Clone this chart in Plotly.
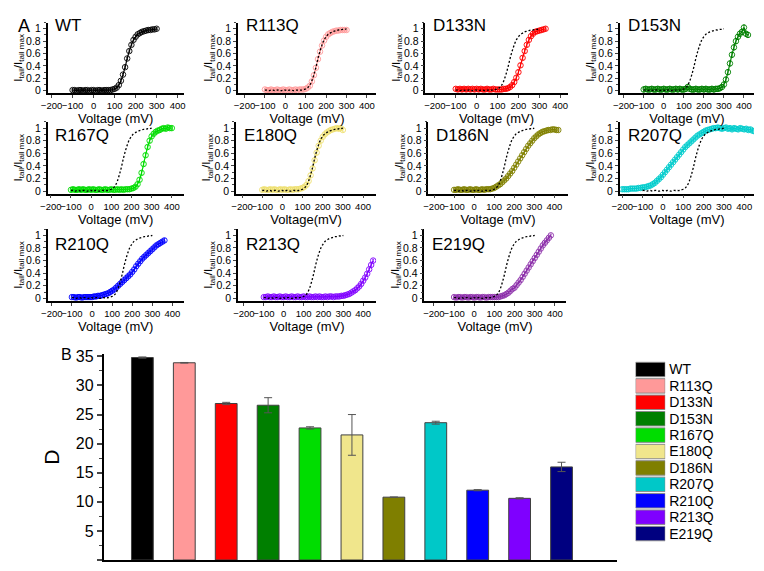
import plotly.graph_objects as go

# ---------------- data ----------------
names = ["WT", "R113Q", "D133N", "D153N", "R167Q", "E180Q", "D186N",
         "R207Q", "R210Q", "R213Q", "E219Q"]
curve_colors = ["#000000", "#FF9999", "#FF0000", "#008000", "#00DD00", "#EEE070",
                "#808000", "#00CCCC", "#0000FF", "#8000FF", "#8A2BA8"]
bar_colors = ["#000000", "#FF9999", "#FF0000", "#007F00", "#00DD00", "#F0E68C",
              "#7F7F00", "#00C8C8", "#0000FF", "#7F00FF", "#000080"]
panel_titles = ["WT", "R113Q", "D133N", "D153N", "R167Q", "E180Q", "D186N",
                "R207Q", "R210Q", "R213Q", "E219Q"]
x_titles = ["Voltage (mV)"] * 5 + ["Voltage(mV)"] + ["Voltage (mV)"] * 5
x_tick_vals = [-200, -100, 0, 100, 200, 300, 400]

# voltage protocol (start, end, step 10 mV)
v_start = [-100, -100, -100, -100, -100, -100, -100, -200, -100, -100, -100]
v_end = [300, 300, 330, 420, 400, 300, 420, 450, 360, 450, 380]

wt_y = [0.01, 0.01, 0.00, 0.01, 0.01, 0.00, 0.01, 0.01, 0.00, 0.01,
        0.01, 0.00, 0.01, 0.01, 0.00, 0.01, 0.01, 0.01, 0.01, 0.02,
        0.03, 0.05, 0.09, 0.16, 0.26, 0.38, 0.52, 0.64, 0.74, 0.82,
        0.87, 0.91, 0.93, 0.95, 0.96, 0.97, 0.98, 0.98, 0.99, 0.99, 1.00]
r113q_y = [0.02, 0.01, 0.01, 0.02, 0.01, 0.01, 0.02, 0.01, 0.01, 0.02,
           0.01, 0.01, 0.02, 0.01, 0.01, 0.02, 0.01, 0.02, 0.02, 0.02,
           0.03, 0.05, 0.08, 0.15, 0.25, 0.37, 0.51, 0.63, 0.73, 0.81,
           0.87, 0.91, 0.93, 0.95, 0.96, 0.97, 0.97, 0.98, 0.98, 0.98, 0.98]
d133n_y = [0.03, 0.02, 0.03, 0.02, 0.03, 0.02, 0.03, 0.02, 0.03, 0.02,
           0.03, 0.02, 0.03, 0.02, 0.02, 0.03, 0.02, 0.02, 0.03, 0.02,
           0.02, 0.02, 0.02, 0.03, 0.03, 0.04, 0.06, 0.09, 0.14, 0.21,
           0.30, 0.41, 0.53, 0.64, 0.74, 0.82, 0.88, 0.92, 0.95, 0.96,
           0.97, 0.98, 0.99, 1.00]
d153n_y = [0.02, 0.03, 0.02, 0.02, 0.03, 0.02, 0.02, 0.03, 0.02, 0.02,
           0.03, 0.02, 0.02, 0.03, 0.02, 0.02, 0.03, 0.02, 0.03, 0.02,
           0.02, 0.03, 0.06, 0.03, 0.02, 0.02, 0.03, 0.02, 0.02, 0.03,
           0.02, 0.03, 0.02, 0.02, 0.03, 0.02, 0.03, 0.03, 0.04, 0.06,
           0.10, 0.18, 0.30, 0.44, 0.58, 0.70, 0.80, 0.87, 0.92, 0.95,
           1.02, 0.92, 0.90]
r167q_y = [0.02, 0.03, 0.02, 0.02, 0.03, 0.02, 0.03, 0.02, 0.02, 0.03,
           0.02, 0.03, 0.02, 0.02, 0.03, 0.02, 0.02, 0.03, 0.02, 0.02,
           0.03, 0.02, 0.02, 0.03, 0.02, 0.03, 0.02, 0.03, 0.03, 0.03,
           0.04, 0.05, 0.07, 0.11, 0.18, 0.29, 0.43, 0.57, 0.70, 0.80,
           0.87, 0.91, 0.94, 0.96, 0.97, 0.99, 1.00, 0.99, 1.01, 1.00,
           1.00]
e180q_y = [0.02, 0.03, 0.02, 0.02, 0.03, 0.02, 0.03, 0.02, 0.02, 0.03,
           0.02, 0.03, 0.02, 0.02, 0.03, 0.02, 0.03, 0.03, 0.03, 0.04,
           0.05, 0.07, 0.10, 0.16, 0.25, 0.36, 0.49, 0.61, 0.72, 0.80,
           0.86, 0.90, 0.93, 0.95, 0.97, 0.98, 0.99, 1.00, 0.99, 1.00, 0.97]
d186n_y = [0.02, 0.02, 0.03, 0.02, 0.02, 0.03, 0.02, 0.02, 0.03, 0.02,
           0.02, 0.03, 0.02, 0.02, 0.03, 0.02, 0.03, 0.03, 0.03, 0.04,
           0.05, 0.07, 0.09, 0.11, 0.14, 0.17, 0.20, 0.24, 0.28, 0.32,
           0.37, 0.42, 0.47, 0.52, 0.57, 0.62, 0.67, 0.72, 0.76, 0.80,
           0.84, 0.87, 0.90, 0.92, 0.94, 0.95, 0.96, 0.97, 0.97, 0.98,
           0.98, 0.97, 0.97]
r207q_y = [0.03, 0.03, 0.03, 0.03, 0.04, 0.04, 0.04, 0.04, 0.05, 0.05,
           0.06, 0.06, 0.07, 0.08, 0.09, 0.11, 0.13, 0.16, 0.19, 0.22,
           0.26, 0.30, 0.34, 0.38, 0.42, 0.46, 0.50, 0.54, 0.58, 0.62,
           0.66, 0.70, 0.73, 0.76, 0.79, 0.82, 0.85, 0.88, 0.90, 0.92,
           0.94, 0.96, 0.97, 0.98, 0.99, 1.00, 1.00, 1.01, 1.00, 0.99,
           1.00, 1.01, 0.99, 1.00, 0.98, 1.00, 0.99, 0.98, 1.00, 0.99,
           0.98, 0.99, 0.97, 0.98, 0.96, 0.95]
r210q_y = [0.02, 0.02, 0.01, 0.02, 0.02, 0.01, 0.02, 0.02, 0.02, 0.02,
           0.02, 0.03, 0.03, 0.04, 0.04, 0.05, 0.06, 0.07, 0.08, 0.10,
           0.12, 0.14, 0.17, 0.20, 0.23, 0.26, 0.29, 0.32, 0.35, 0.38,
           0.42, 0.46, 0.51, 0.55, 0.59, 0.63, 0.66, 0.69, 0.72, 0.75,
           0.78, 0.81, 0.84, 0.86, 0.88, 0.90, 0.92]
r213q_y = [0.02, 0.02, 0.03, 0.02, 0.02, 0.03, 0.02, 0.02, 0.03, 0.02,
           0.02, 0.03, 0.02, 0.02, 0.03, 0.02, 0.02, 0.03, 0.02, 0.02,
           0.03, 0.02, 0.02, 0.03, 0.02, 0.02, 0.03, 0.02, 0.03, 0.02,
           0.02, 0.03, 0.02, 0.03, 0.03, 0.02, 0.03, 0.03, 0.03, 0.04,
           0.04, 0.05, 0.06, 0.07, 0.09, 0.11, 0.13, 0.16, 0.19, 0.23,
           0.28, 0.33, 0.39, 0.46, 0.53, 0.60]
e219q_y = [0.02, 0.01, 0.02, 0.02, 0.01, 0.02, 0.02, 0.01, 0.02, 0.02,
           0.01, 0.02, 0.02, 0.01, 0.02, 0.02, 0.01, 0.02, 0.02, 0.02,
           0.02, 0.02, 0.02, 0.03, 0.04, 0.05, 0.07, 0.09, 0.12, 0.15,
           0.17, 0.21, 0.25, 0.29, 0.34, 0.39, 0.44, 0.49, 0.54, 0.59,
           0.64, 0.69, 0.74, 0.79, 0.84, 0.88, 0.92, 0.96, 1.00]
curve_values = [wt_y, r113q_y, d133n_y, d153n_y, r167q_y, e180q_y, d186n_y,
                r207q_y, r210q_y, r213q_y, e219q_y]
curve_err = [0.02, 0.02, 0.03, 0.04, 0.03, 0.03, 0.03, 0.03, 0.03, 0.02, 0.02]

# panel B
d_values = [34.8, 33.9, 26.9, 26.6, 22.7, 21.5, 10.8, 23.6, 12.0, 10.6, 16.0]
d_errors = [0.1, 0.05, 0.2, 1.3, 0.2, 3.5, 0.0, 0.25, 0.1, 0.1, 0.8]

# ---------------- layout helpers ----------------
# The page keeps the browser's default 8px body margin, so the figure is
# 16px smaller than the window and all page-pixel positions are offset by 8.
OFF = 8
W, H = 764 - 2 * OFF, 571 - 2 * OFF
FONT = "Liberation Sans, Arial, sans-serif"


def px_x(p):
    return (p - OFF) / W


def px_y(p):
    return 1 - (p - OFF) / H


panel_xpx = [(40, 178), (233, 373), (423, 567), (620, 762),
             (40, 178), (231, 373), (426, 567), (620, 762),
             (40, 178), (233, 373), (422, 565)]
panel_xrange = [(-219, 429), (-232, 445), (-245, 435), (-219, 450),
                (-216, 459), (-230, 465), (-228, 466), (-212, 448),
                (-221, 456), (-230, 465), (-247, 453)]
row_ypx = [(16.7, 88.5), (117.6, 190.6), (226.6, 299.6)]
title_ypx = [20, 132, 242]

fig = go.Figure()
layout = dict(width=W, height=H, margin=dict(l=0, r=0, t=0, b=0),
              paper_bgcolor="white", plot_bgcolor="white",
              font=dict(family=FONT, color="black"), showlegend=False)
annotations = []

wt_volts = list(range(v_start[0], v_end[0] + 1, 10))

for i, nm in enumerate(names):
    n = i + 1
    row = i // 4
    volts = list(range(v_start[i], v_end[i] + 1, 10))
    fig.add_trace(go.Scatter(
        x=volts, y=curve_values[i], mode="lines+markers",
        line=dict(color=curve_colors[i], width=1.2, shape="spline"),
        marker=dict(symbol="circle-open", size=5.5, color=curve_colors[i],
                    line=dict(width=0.9)),
        error_y=dict(type="constant", value=curve_err[i], color=curve_colors[i],
                     thickness=0.8, width=1),
        xaxis=f"x{n}", yaxis=f"y{n}"))
    if i > 0:
        fig.add_trace(go.Scatter(
            x=wt_volts, y=wt_y, mode="lines",
            line=dict(color="black", width=1.3, dash="2px,2px", shape="spline"),
            xaxis=f"x{n}", yaxis=f"y{n}"))
    xl, xr = panel_xpx[i]
    yt, yb = row_ypx[row]
    layout[f"xaxis{n}"] = dict(
        domain=[px_x(xl), min(1, px_x(xr))], range=list(panel_xrange[i]), anchor=f"y{n}",
        tickmode="array", tickvals=x_tick_vals, tickangle=0,
        ticks="outside", ticklen=3,
        showline=True, linecolor="black", linewidth=1.5, showgrid=False,
        zeroline=False, tickfont=dict(size=9.5),
        title=dict(text=x_titles[i], font=dict(size=13), standoff=1))
    layout[f"yaxis{n}"] = dict(
        domain=[px_y(yb), px_y(yt)], range=[-0.04, 1.1], anchor=f"x{n}",
        tick0=0, dtick=0.2, ticks="outside", ticklen=3,
        minor=dict(dtick=0.1, ticks="outside", ticklen=2),
        showline=True, linecolor="black", linewidth=1.5, showgrid=False,
        zeroline=False, tickfont=dict(size=10.5),
        title=dict(text="I<sub>tail</sub>/I<sub>tail max</sub>",
                   font=dict(size=11.5), standoff=0))
    annotations.append(dict(text=panel_titles[i], xref="paper", yref="paper",
                            x=px_x(xl + 6), y=px_y(title_ypx[row]),
                            xanchor="left", yanchor="middle", showarrow=False,
                            font=dict(size=17)))

# ---------------- panel B: bar chart ----------------
bar_pos = list(range(len(names)))
fig.add_trace(go.Bar(
    x=bar_pos, y=d_values, width=0.52,
    marker=dict(color=bar_colors, line=dict(color="#404040", width=1)),
    error_y=dict(type="data", array=d_errors, color="#555555", thickness=1, width=4),
    xaxis="x12", yaxis="y12"))
layout["xaxis12"] = dict(domain=[px_x(97), px_x(617)], range=[-0.92, 11.32],
                         anchor="y12", showline=True, linecolor="black", linewidth=2,
                         showticklabels=False, ticks="", showgrid=False, zeroline=False)
layout["yaxis12"] = dict(domain=[px_y(563), px_y(354)], range=[0, 35.34], anchor="x12",
                         tick0=0, dtick=5, ticks="outside", ticklen=5, tickwidth=1.5,
                         minor=dict(dtick=2.5, ticks="outside", ticklen=3, tickwidth=1),
                         showline=True, linecolor="black", linewidth=2,
                         showgrid=False, zeroline=False, tickfont=dict(size=16),
                         title=dict(text="D", font=dict(size=21), standoff=10))

# legend built as a small horizontal-bar axis
fig.add_trace(go.Bar(
    y=names, x=[1] * len(names), orientation="h", width=0.88,
    marker=dict(color=bar_colors, line=dict(color="#8a8a8a", width=1)),
    xaxis="x13", yaxis="y13"))
layout["xaxis13"] = dict(domain=[px_x(636), px_x(666)], range=[0, 1], anchor="y13",
                         visible=False)
layout["yaxis13"] = dict(domain=[px_y(544.5), px_y(361)], anchor="x13", type="category",
                         tickmode="array", tickvals=names,
                         autorange="reversed", side="right", showline=False, ticks="",
                         showgrid=False, zeroline=False, tickfont=dict(size=14),
                         ticklabelstandoff=3)

annotations.append(dict(text="A", xref="paper", yref="paper", x=0, y=1,
                        xanchor="left", yanchor="top", showarrow=False,
                        font=dict(size=18)))
annotations.append(dict(text="B", xref="paper", yref="paper", x=px_x(52), y=px_y(354),
                        xanchor="left", yanchor="middle", showarrow=False,
                        font=dict(size=16)))
layout["annotations"] = annotations
fig.update_layout(**layout)
fig.write_html("out.html", config={"displayModeBar": False})
